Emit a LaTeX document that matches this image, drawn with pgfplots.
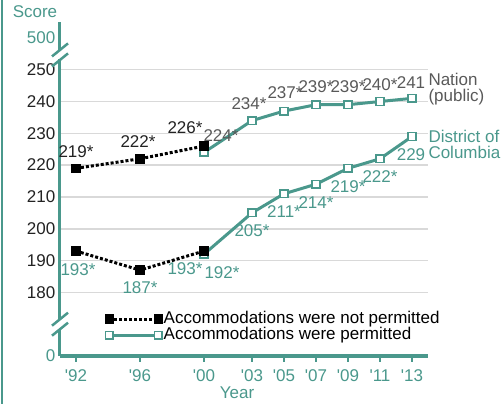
\documentclass[border=0pt]{standalone}
\usepackage{pgfplots}
\pgfplotsset{compat=1.18}
\usepackage{pgfplotstable}
\usepackage{fontspec}
\setmainfont{Liberation Sans}
\definecolor{teal1}{RGB}{74,152,140}
\definecolor{gridc}{RGB}{217,217,217}
\definecolor{lblgray}{RGB}{89,89,89}
\definecolor{tickblk}{RGB}{34,34,34}
\newcommand\f{\fontsize{17bp}{16bp}\selectfont}

\pgfplotstableread{
x y label dx dy
1992 219 219* 0 17
1996 222 222* -2 17
2000 226 226* -19 18
}\natA
\pgfplotstableread{
x y label dx dy
2000 224 224* 17 17
2003 234 234* -3 17
2005 237 237* 1 18
2007 239 239* 0 18
2009 239 239* 0 18
2011 240 240* 0 17
2013 241 241 -1 16
}\natB
\pgfplotstableread{
x y label dx dy
1992 193 193* 2 -19
1996 187 187* 0 -18
2000 193 193* -19 -18
}\dcA
\pgfplotstableread{
x y label dx dy
2000 192 192* 18 -18
2003 205 205* 0 -18
2005 211 211* 0 -18
2007 214 214* 0 -18
2009 219 219* 0 -18
2011 222 222* 0 -18
2013 229 229 -1 -18
}\dcB

\begin{document}
\begin{tikzpicture}
\begin{axis}[
  at={(0,0)}, anchor=south west,
  scale only axis, width=368bp, height=334bp,
  xmin=1991, xmax=2014, ymin=160, ymax=265,
  clip=false,
  axis x line*=bottom, axis y line*=left,
  y axis line style={draw=none},
  x axis line style={draw=teal1, line width=3bp, -},
  xtick={1992,1996,2000,2003,2005,2007,2009,2011,2013},
  xticklabels={{\textquotesingle}92,{\textquotesingle}96,{\textquotesingle}00,{\textquotesingle}03,{\textquotesingle}05,{\textquotesingle}07,{\textquotesingle}09,{\textquotesingle}11,{\textquotesingle}13},
  ytick={180,190,...,250},
  extra y ticks={160,260},
  extra y tick labels={0,500},
  extra y tick style={grid=none, yticklabel style={text=teal1}},
  ymajorgrids, grid style={draw=gridc, line width=1.5bp},
  tick align=outside, major tick length=6bp,
  xtick style={draw=teal1, line width=1.5bp},
  ytick style={draw=none},
  xticklabel style={font=\f, text=teal1, anchor=center, yshift=-14bp},
  yticklabel style={font=\f, text=tickblk, anchor=east, inner sep=0pt, xshift=1.5bp},
  /pgf/number format/assume math mode=true,
  legend style={draw=none, fill=none, font=\f, at={(0.114,0.1407)}, anchor=north west,
    nodes={inner sep=1bp, text height=11bp, text depth=3bp}, row sep=0bp},
  legend cell align=left,
  legend image code/.code={
    \draw[mark repeat=2, mark phase=1, #1] plot coordinates {(0bp,0bp) (24.5bp,0bp) (49bp,0bp)};
  },
  point meta=explicit symbolic,
  visualization depends on={\thisrow{dx}\as\dx},
  visualization depends on={\thisrow{dy}\as\dy},
  nodes near coords,
  every node near coord/.append style={font=\f, anchor=center, inner sep=0pt, xshift=\dx bp, yshift=\dy bp},
  npstyle/.style={black, line width=3bp, dash pattern=on 3bp off 2bp, mark=square*, mark size=4.3bp, mark options={solid, fill=black, line width=0.8bp}},
  pstyle/.style={teal1, line width=3bp, mark=square*, mark size=3.8bp, mark options={solid, fill=white, draw=teal1, line width=1.5bp}},
]
\addlegendimage{npstyle}
\addlegendentry{Accommodations were not permitted}
\addlegendimage{pstyle}
\addlegendentry{Accommodations were permitted}

\addplot[pstyle, forget plot, nodes near coords style={text=lblgray}] table[x=x, y=y, meta=label] {\natB};
\addplot[pstyle, forget plot, nodes near coords style={text=teal1}] table[x=x, y=y, meta=label] {\dcB};
\addplot[npstyle, forget plot, nodes near coords style={text=tickblk}] table[x=x, y=y, meta=label] {\natA};
\addplot[npstyle, forget plot, nodes near coords style={text=teal1}] table[x=x, y=y, meta=label] {\dcA};

% broken y axis
\draw[teal1, line width=3bp] (axis cs:1991,160) -- (axis cs:1991,168.3);
\draw[teal1, line width=3bp] (axis cs:1991,171.6) -- (axis cs:1991,253.4);
\draw[teal1, line width=3bp] (axis cs:1991,255.9) -- (axis cs:1991,265);
\coordinate (b1) at (axis cs:1991,170);
\coordinate (b2) at (axis cs:1991,254.65);

\node[anchor=west, align=left, text=lblgray, font=\f, xshift=13bp, yshift=9bp] at (axis cs:2013,241) {Nation\\(public)};
\node[anchor=west, align=left, text=teal1, font=\f, xshift=13bp, yshift=-8bp] at (axis cs:2013,229) {District of\\Columbia};
\end{axis}
\foreach \b in {b1,b2}{
  \draw[teal1, line width=2.5bp] ([xshift=-8bp,yshift=-1.5bp]\b) -- ++(16bp,13bp);
  \draw[teal1, line width=2.5bp] ([xshift=-8bp,yshift=-11.5bp]\b) -- ++(16bp,13bp);
}
\node[text=teal1, font=\f] at (-25bp,344bp) {Score};
\node[text=teal1, font=\f] at (177bp,-37bp) {Year};
\draw[teal1, line width=2bp] (-58bp,-48bp) -- (-58bp,356bp);
\pgfresetboundingbox
\useasboundingbox (-60bp,-48bp) rectangle (442bp,356bp);
\end{tikzpicture}
\end{document}
